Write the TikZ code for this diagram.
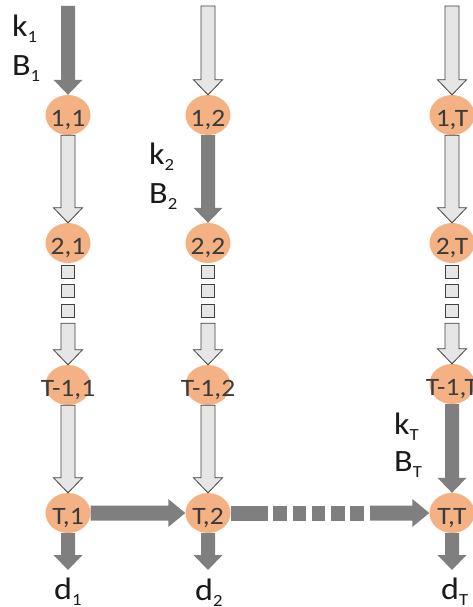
\documentclass[tikz,border=0pt]{standalone}
\usepackage{fontspec}
\setmainfont[FakeStretch=1.1]{Carlito}
\usetikzlibrary{calc,shapes.geometric}
\definecolor{nodeor}{HTML}{F4B183}
\definecolor{darkar}{HTML}{7F7F7F}
\definecolor{lightar}{HTML}{E7E6E6}
\definecolor{edgear}{HTML}{404040}
\definecolor{nodetxt}{HTML}{3B3B3B}
\definecolor{labtxt}{HTML}{1A1A1A}
\tikzset{
  state/.style={ellipse, minimum width=45pt, minimum height=40pt, inner sep=0pt,
    fill=nodeor, text=nodetxt, font=\fontsize{25}{25}\selectfont,
    text height=23pt, text depth=0pt},
  darkarrow/.style={fill=darkar},
  lightarrow/.style={fill=lightar, draw=edgear, line width=0.8pt, line join=miter},
  darkbit/.style={fill=darkar},
  lightbit/.style={fill=lightar, draw=edgear, line width=0.8pt},
  lab/.style={anchor=base west, inner sep=0pt, text=labtxt, font=\fontsize{31}{31}\selectfont}
}
\newcommand\nt[1]{\makebox[0pt]{#1}}
% vertical block arrow (downward): style, from, to
\newcommand\varrow[3]{%
  \path[#1] let \p1=(#2), \p2=(#3) in
    (\x1-7pt,\y1) -- (\x1-7pt,\y2+15pt) -- (\x1-14.5pt,\y2+15pt) -- (\x1,\y2)
    -- (\x1+14.5pt,\y2+15pt) -- (\x1+7pt,\y2+15pt) -- (\x1+7pt,\y1) -- cycle;}
% horizontal block arrow (rightward): style, from, to
\newcommand\harrow[3]{%
  \path[#1] let \p1=(#2), \p2=(#3) in
    (\x1,\y1+7.5pt) -- (\x2-17pt,\y1+7.5pt) -- (\x2-17pt,\y1+14pt) -- (\x2,\y1)
    -- (\x2-17pt,\y1-14pt) -- (\x2-17pt,\y1-7.5pt) -- (\x1,\y1-7.5pt) -- cycle;}
% three small squares below a node
\newcommand\vbits[2]{%
  \foreach \k in {0,1,2} \path[#1] ($(#2.south)+(-6.5,2+19.5*\k)$) rectangle +(13,13);}
\newcommand\lb[2]{#1\raisebox{-6pt}{\fontsize{17}{17}\selectfont #2}}
\begin{document}
\begin{tikzpicture}[x=1pt,y=-1pt]
\useasboundingbox (0,0) rectangle (473,607);
\clip (0,0) rectangle (473,607);
% nodes
\node[state] (n11) at (68,115) {\nt{1,1}};
\node[state] (n21) at (68,243) {\nt{2,1}};
\node[state] (n31) at (68,385) {\nt{T-1,1}};
\node[state] (n41) at (68,513) {\nt{T,1}};
\node[state] (n12) at (208,115) {\nt{1,2}};
\node[state] (n22) at (208,243) {\nt{2,2}};
\node[state] (n32) at (208,385) {\nt{T-1,2}};
\node[state] (n42) at (208,513) {\nt{T,2}};
\node[state] (n13) at (452,115) {\nt{1,T}};
\node[state] (n23) at (452,243) {\nt{2,T}};
\node[state] (n33) at (452,384) {\nt{T-1,T}};
\node[state] (n43) at (452,513) {\nt{T,T}};
% free ends
\coordinate (t1) at (68,6);
\coordinate (t2) at (208,6);
\coordinate (t3) at (452,6);
\coordinate (c1) at ($(n21.south)+(0,60)$);
\coordinate (c2) at ($(n22.south)+(0,60)$);
\coordinate (c3) at ($(n23.south)+(0,60)$);
\coordinate (e1) at (68,570);
\coordinate (e2) at (208,570);
\coordinate (e3) at (452,570);
\coordinate (h3) at (370,513);
% column 1
\varrow{darkarrow}{t1}{n11.north}
\varrow{lightarrow}{n11.south}{n21.north}
\vbits{lightbit}{n21}
\varrow{lightarrow}{c1}{n31.north}
\varrow{lightarrow}{n31.south}{n41.north}
\varrow{darkarrow}{n41.south}{e1}
% column 2
\varrow{lightarrow}{t2}{n12.north}
\varrow{darkarrow}{n12.south}{n22.north}
\vbits{lightbit}{n22}
\varrow{lightarrow}{c2}{n32.north}
\varrow{lightarrow}{n32.south}{n42.north}
\varrow{darkarrow}{n42.south}{e2}
% column 3
\varrow{lightarrow}{t3}{n13.north}
\varrow{lightarrow}{n13.south}{n23.north}
\vbits{lightbit}{n23}
\varrow{lightarrow}{c3}{n33.north}
\varrow{darkarrow}{n33.south}{n43.north}
\varrow{darkarrow}{n43.south}{e3}
% horizontal
\harrow{darkarrow}{n41.east}{n42.west}
\path[darkbit] ($(n42.east)+(0,-7.5)$) rectangle +(37,15);
\foreach \k in {0,1,2,3,4} \path[darkbit] ($(n42.east)+(42.5+19.3*\k,-7.5)$) rectangle +(13.5,15);
\harrow{darkarrow}{h3}{n43.west}
% labels
\node[lab] (k1) at (12,37) {\lb{k}{1}};
\node[lab] (b1) at (12,76) {\lb{B}{1}};
\node[lab] (k2) at (149,164) {\lb{k}{2}};
\node[lab] (b2) at (149,203) {\lb{B}{2}};
\node[lab] (k3) at (394,434) {\lb{k}{T}};
\node[lab] (b3) at (394,471) {\lb{B}{T}};
\node[lab] (d1) at (54,599) {\lb{d}{1}};
\node[lab] (d2) at (195,600) {\lb{d}{2}};
\node[lab] (d3) at (441,599) {\lb{d}{T}};
\end{tikzpicture}
\end{document}
